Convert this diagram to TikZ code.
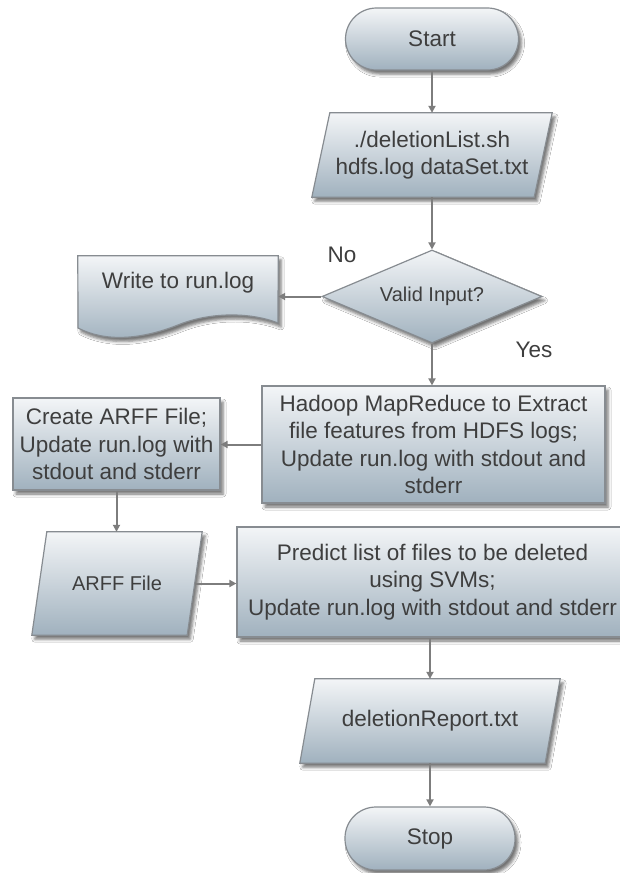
\documentclass[tikz,border=0pt]{standalone}
\usepackage{fontspec}
\setmainfont{Liberation Sans}
\usetikzlibrary{shapes.geometric,arrows.meta,shadows.blur,calc,backgrounds}
\definecolor{boxtop}{RGB}{243,245,247}
\definecolor{boxbot}{RGB}{160,177,190}
\definecolor{edgec}{RGB}{135,140,145}
\definecolor{ink}{RGB}{62,62,62}
\definecolor{arrowc}{RGB}{125,125,125}
\tikzset{
  shapefill/.style={draw=edgec, line width=1.2pt, top color=boxtop, bottom color=boxbot,
    blur shadow={shadow xshift=3pt, shadow yshift=-4pt, shadow blur radius=3pt, shadow opacity=55}},
  txt/.style={text=ink, align=center, inner sep=0pt, font=\fontsize{22.5}{27.5}\selectfont},
  base/.style={shapefill, txt},
  term/.style={base, rounded corners=31pt},
  procbox/.style={base, rectangle},
  iobox/.style={txt, rectangle},
  decision/.style={base, diamond, aspect=2.37, font=\fontsize{20}{24}\selectfont},
  flow/.style={draw=arrowc, line width=2pt, -{Triangle[length=7pt,width=7pt]}},
  lbl/.style={txt},
}
\begin{document}
\begin{tikzpicture}[x=1pt,y=-1pt]
\useasboundingbox (0,0) rectangle (620,873);

\node[term, minimum width=173pt, minimum height=62pt] (start) at (432,39) {Start};
\node[iobox, minimum width=222pt, minimum height=84pt] (input) at (432,155)
      {./deletionList.sh\\hdfs.log dataSet.txt};
\node[decision, minimum width=220pt, minimum height=93pt] (valid) at (432,296.5) {Valid Input?};

% document shape "Write to run.log"
\node[minimum width=200pt, minimum height=67pt, inner sep=0pt] (write) at (178,289.5) {};
\path[shapefill] (write.north west) -- (write.north east) -- (278,323)
  .. controls (250,312) and (210,312) .. (178,325)
  .. controls (140,340) and (105,342) .. (78,328) -- cycle;
\node[lbl] (writetext) at (178,283) {Write to run.log};

\node[procbox, minimum width=343pt, minimum height=117pt] (hadoop) at (433.5,444.5)
  {Hadoop MapReduce to Extract\\file features from HDFS logs;\\Update run.log with stdout and\\stderr};
\node[procbox, minimum width=207pt, minimum height=92pt] (create) at (116.5,444)
  {Create ARFF File;\\Update run.log with\\stdout and stderr};
\node[iobox, minimum width=155pt, minimum height=103pt,
      font=\fontsize{20}{24}\selectfont] (arff) at (117,583.5) {ARFF File};
\node[procbox, minimum width=391pt, minimum height=110pt] (predict) at (432.5,582)
  {Predict list of files to be deleted\\using SVMs;\\Update run.log with stdout and stderr};
\node[iobox, minimum width=245pt, minimum height=84pt] (report) at (430,721) {deletionReport.txt};
\node[term, minimum width=170pt, minimum height=63pt] (stop) at (430,838.5) {Stop};

\begin{scope}[on background layer]
  \fill[white] (0,0) rectangle (620,873);
  \path[shapefill] ($(input.north west)+(9,0)$) -- ($(input.north east)+(9,0)$)
    -- ($(input.south east)-(9,0)$) -- ($(input.south west)-(9,0)$) -- cycle;
  \path[shapefill] ($(arff.north west)+(7.5,0)$) -- ($(arff.north east)+(7.5,0)$)
    -- ($(arff.south east)-(7.5,0)$) -- ($(arff.south west)-(7.5,0)$) -- cycle;
  \path[shapefill] ($(report.north west)+(7.5,0)$) -- ($(report.north east)+(7.5,0)$)
    -- ($(report.south east)-(7.5,0)$) -- ($(report.south west)-(7.5,0)$) -- cycle;
\end{scope}

\node[lbl] (no) at (342,255) {No};
\node[lbl] (yes) at (534,350) {Yes};

\draw[flow] (start) -- (input);
\draw[flow] (input) -- (valid);
\draw[flow] (valid.west) -- (valid.west -| write.east);
\draw[flow] (valid.south) -- (valid.south |- hadoop.north);
\draw[flow] (hadoop.west) -- (hadoop.west -| create.east);
\draw[flow] (create.south) -- (create.south |- arff.north);
\draw[flow] (arff.east) -- (arff.east -| predict.west);
\draw[flow] (report.north |- predict.south) -- (report.north);
\draw[flow] (report) -- (stop);
\end{tikzpicture}
\end{document}
